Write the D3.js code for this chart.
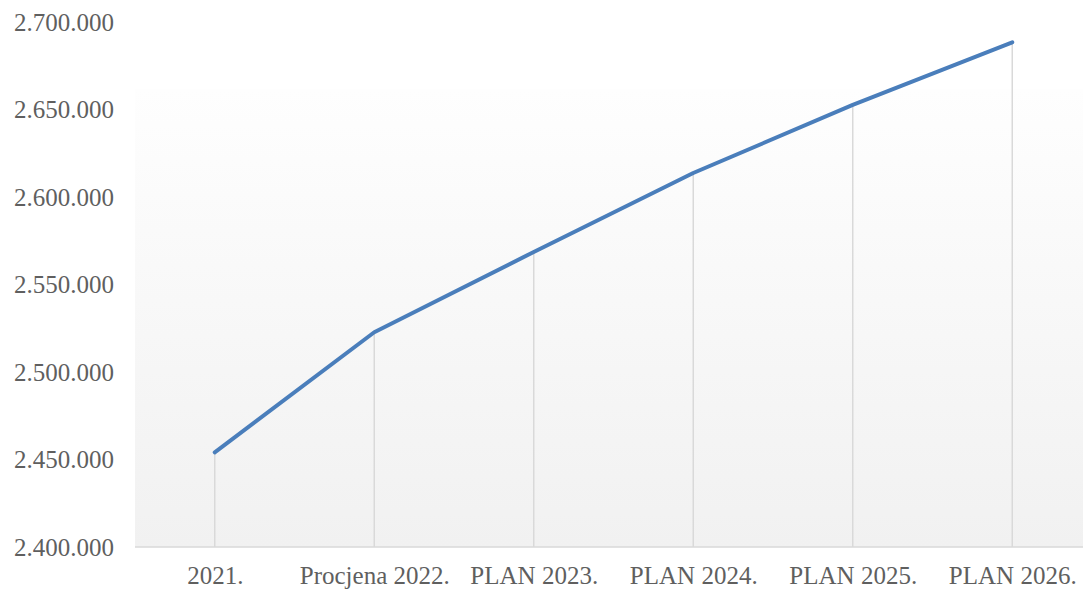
<!DOCTYPE html>
<html lang="hr">
<head>
    <meta charset="UTF-8">
    <script src="https://d3js.org/d3.v7.min.js"></script>
    <title>Plan 2021-2026</title>
    <style>
        body { margin: 0; background: #ffffff; }
        svg { display: block; }
    </style>
</head>
<body>
    <div id="chart"></div>
    <script>
        // categories and values
        const categories = ["2021.", "Procjena 2022.", "PLAN 2023.", "PLAN 2024.", "PLAN 2025.", "PLAN 2026."];
        const values = [2454100, 2522700, 2568600, 2613700, 2652600, 2688400];
        const yTicks = [2400000, 2450000, 2500000, 2550000, 2600000, 2650000, 2700000];

        const width = 1083, height = 590;
        const plot = { left: 135, right: 1092, top: 22, bottom: 547 };
        const labelFont = "'Liberation Serif', 'Times New Roman', serif";

        const svg = d3.select("#chart").append("svg")
            .attr("width", width)
            .attr("height", height);

        // background gradient of the plot area
        const defs = svg.append("defs");
        const grad = defs.append("linearGradient")
            .attr("id", "bg")
            .attr("x1", 0).attr("y1", 0).attr("x2", 0).attr("y2", 1);
        grad.append("stop").attr("offset", "0%").attr("stop-color", "#fefefe");
        grad.append("stop").attr("offset", "100%").attr("stop-color", "#f1f1f1");

        const x = d3.scalePoint()
            .domain(categories)
            .range([plot.left, plot.right])
            .padding(0.5);

        const y = d3.scaleLinear()
            .domain([2400000, 2700000])
            .range([plot.bottom, plot.top]);

        const fmt = v => d3.format(",")(v).replace(/,/g, ".");

        svg.append("rect")
            .attr("x", plot.left)
            .attr("y", 89)
            .attr("width", width - plot.left)
            .attr("height", plot.bottom - 89)
            .attr("fill", "url(#bg)");

        // drop lines from each point to the axis
        svg.append("g")
            .selectAll("line")
            .data(values)
            .join("line")
            .attr("x1", (d, i) => x(categories[i]))
            .attr("x2", (d, i) => x(categories[i]))
            .attr("y1", d => y(d))
            .attr("y2", plot.bottom)
            .attr("stroke", "#d9d9d9")
            .attr("stroke-width", 1.5);

        // x axis line
        svg.append("line")
            .attr("x1", plot.left)
            .attr("x2", width)
            .attr("y1", plot.bottom)
            .attr("y2", plot.bottom)
            .attr("stroke", "#d9d9d9")
            .attr("stroke-width", 1.5);

        function styleLabels(g) {
            g.attr("font-family", labelFont).attr("font-size", 25);
            g.selectAll("text")
                .attr("font-family", labelFont)
                .attr("font-size", 25)
                .attr("fill", "#5f5f5f");
        }

        // y labels
        const yAxis = svg.append("g")
            .attr("transform", `translate(114,0)`)
            .call(d3.axisLeft(y).tickValues(yTicks).tickFormat(fmt).tickSize(0).tickPadding(0));
        yAxis.select(".domain").remove();
        styleLabels(yAxis);

        // x labels
        const xAxis = svg.append("g")
            .attr("transform", `translate(0,${plot.bottom})`)
            .call(d3.axisBottom(x).tickSize(0).tickPadding(19));
        xAxis.select(".domain").remove();
        styleLabels(xAxis);

        // the line
        const line = d3.line()
            .x((d, i) => x(categories[i]))
            .y(d => y(d));

        svg.append("path")
            .datum(values)
            .attr("d", line)
            .attr("fill", "none")
            .attr("stroke", "#4a7ebb")
            .attr("stroke-width", 4)
            .attr("stroke-linecap", "round")
            .attr("stroke-linejoin", "round");
    </script>
</body>
</html>
